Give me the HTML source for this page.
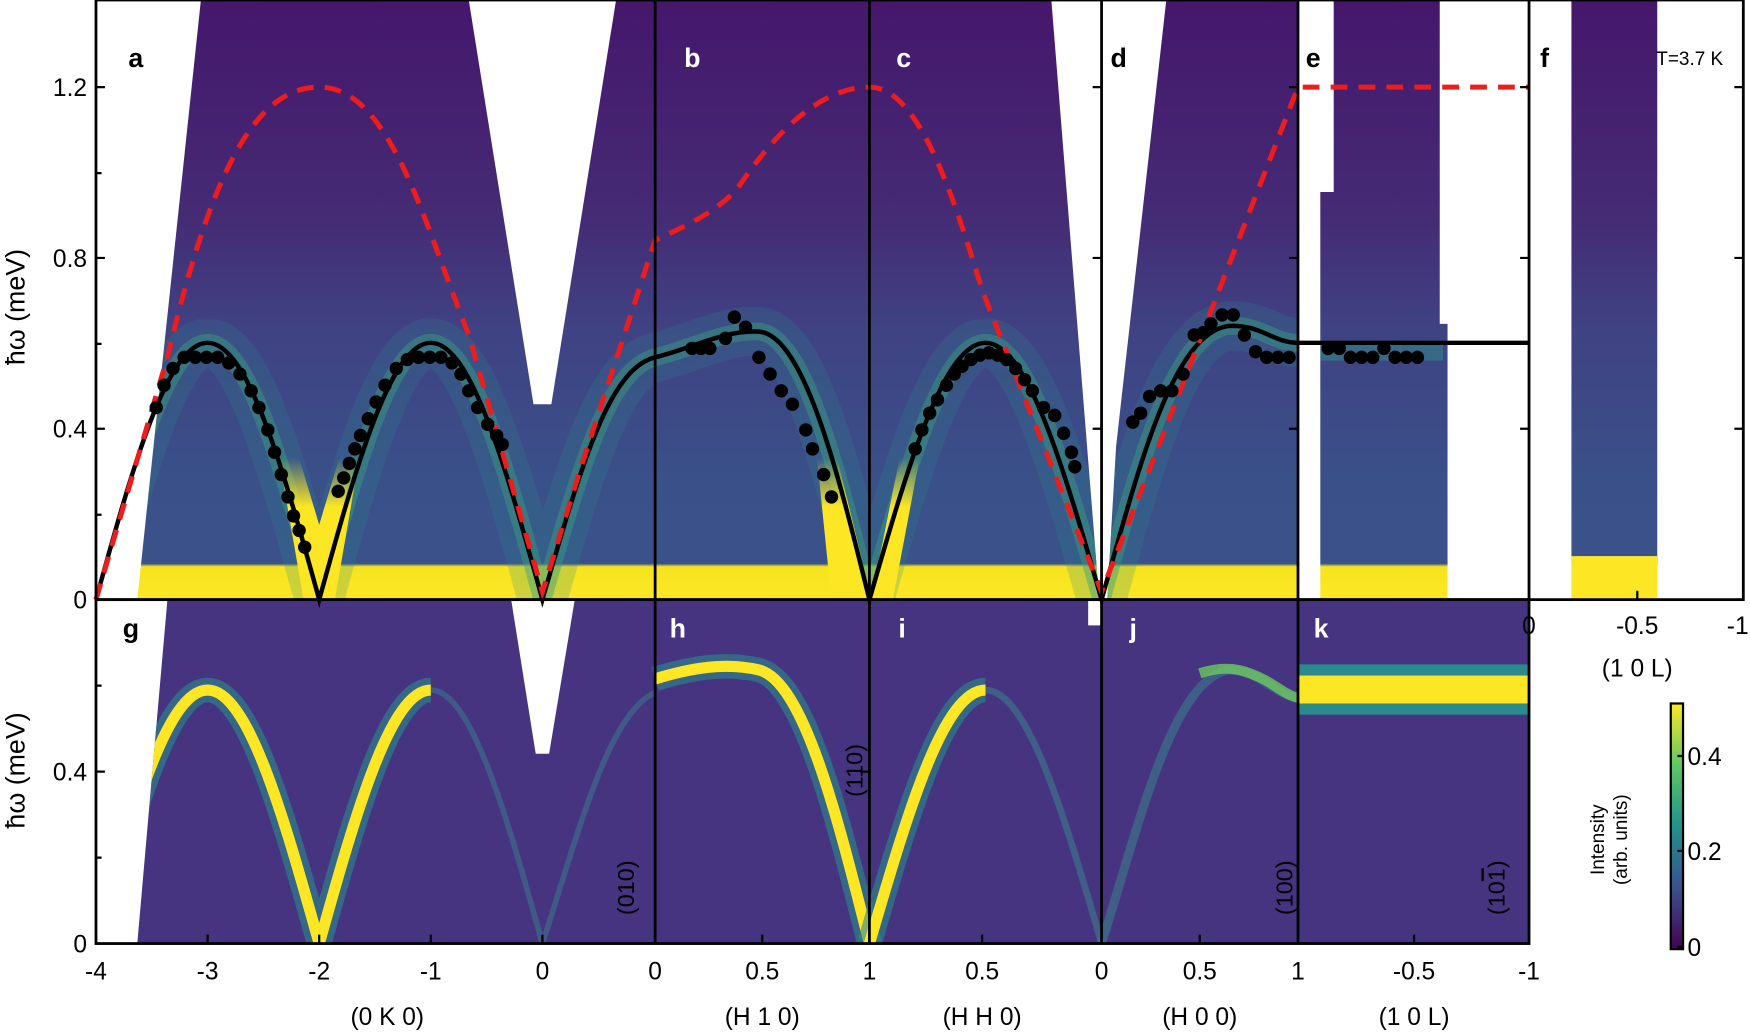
<!DOCTYPE html>
<html><head><meta charset="utf-8"><style>html,body{margin:0;padding:0;background:#fff}svg{display:block}text{font-family:"Liberation Sans",Arial,sans-serif}</style></head><body>
<svg width="1750" height="1034" viewBox="0 0 1568 926" preserveAspectRatio="none" xmlns="http://www.w3.org/2000/svg">
<defs>
<linearGradient id="tg" x1="0" y1="0" x2="0" y2="1">
<stop offset="0" stop-color="#45176c"/><stop offset="0.35" stop-color="#452a74"/><stop offset="0.55" stop-color="#3f4283"/><stop offset="0.8" stop-color="#3a5089"/><stop offset="0.94" stop-color="#3a5289"/><stop offset="0.945" stop-color="#f6e41f"/><stop offset="1" stop-color="#fde725"/>
</linearGradient>
<linearGradient id="yf" x1="0" y1="0" x2="0" y2="1">
<stop offset="0" stop-color="#fde725" stop-opacity="0"/><stop offset="0.35" stop-color="#fde725" stop-opacity="1"/><stop offset="1" stop-color="#fde725"/>
</linearGradient>
<linearGradient id="cb" x1="0" y1="1" x2="0" y2="0">
<stop offset="0" stop-color="#440154"/><stop offset="0.25" stop-color="#3b528b"/><stop offset="0.5" stop-color="#21918c"/><stop offset="0.75" stop-color="#5ec962"/><stop offset="1" stop-color="#fde725"/>
</linearGradient>
<path id="arc" d="M86,537 C118.6,419.2 149.8,307 186,307 C222.2,307 253.4,419.2 286,537 C318.6,419.2 349.8,307 386,307 C422.2,307 453.4,419.2 486,537 C520,420 545,330 587,320 C620,312 650,295 680,297 C720,300 750,420 779,537 C812.9,419.2 845.4,307 883,307 C920.6,307 953.1,419.2 987,537 C1020,420 1050,300 1100,292 C1130,290 1140,307 1163,307"/>
<clipPath id="ct"><path d="M123,537 L180,0 L420,0 L478,362 L494,362 L552,0 L942,0 L985,537 Z M992,537 L1000,400 L1045,0 L1163,0 L1163,537 Z M1195,0 L1290,0 L1290,290 L1297,290 L1297,537 L1183,537 L1183,172 L1195,172 Z M1408,0 L1485,0 L1485,537 L1408,537 Z"/></clipPath>
<clipPath id="cbm"><path d="M123,845 L150,537 L458,537 L480,675 L492,675 L515,537 L975,537 L975,560 L987,560 L987,537 L1003,537 L990,845 Z M990,845 L995,600 L1003,537 L1370,537 L1370,845 Z"/></clipPath>
</defs>
<!-- top heatmap -->
<g clip-path="url(#ct)">
<rect x="0" y="0" width="1568" height="537" fill="url(#tg)"/>
<rect x="1408" y="498" width="77" height="40" fill="#fde725"/>
<g fill="none" stroke-linecap="round">
<use href="#arc" stroke="#2a8a8c" stroke-width="44" stroke-opacity="0.22"/>
<use href="#arc" stroke="#3aa07f" stroke-width="16" stroke-opacity="0.45"/>
</g>
<path d="M250,410 L268,410 L286,470 L304,410 L322,410 L300,537 L272,537 Z" fill="url(#yf)"/>
<path d="M732,410 L750,410 L772,500 L779,537 L790,490 L806,410 L824,410 L800,537 L745,537 Z" fill="url(#yf)"/>
<rect x="1183" y="305" width="110" height="18" fill="#2e8f8a" opacity="0.5"/>
</g>
<!-- bottom heatmap -->
<g clip-path="url(#cbm)">
<rect x="86" y="537" width="1284" height="308" fill="#463481"/>
<g fill="none" stroke-linecap="butt">
<path d="M86,845 C118.6,728.7 149.8,618 186,618 C222.2,618 253.4,728.7 286,845 C318.6,728.7 349.8,618 386,618" stroke="#2a8a8c" stroke-width="22" stroke-opacity="0.6"/>
<path d="M86,845 C118.6,728.7 149.8,618 186,618 C222.2,618 253.4,728.7 286,845 C318.6,728.7 349.8,618 386,618" stroke="#fde725" stroke-width="10"/>
<path d="M386,618 C422.2,618 453.4,728.7 486,845 C520,740 545,640 587,620" stroke="#3a8a8e" stroke-width="5" stroke-opacity="0.45"/>
<path d="M587,608 C620,598 650,593 680,600 C720,610 750,730 779,845" stroke="#2a8a8c" stroke-width="22" stroke-opacity="0.6"/>
<path d="M587,608 C620,598 650,593 680,600 C720,610 750,730 779,845" stroke="#fde725" stroke-width="10"/>
<path d="M779,845 C812.9,728.7 845.4,618 883,618" stroke="#2a8a8c" stroke-width="22" stroke-opacity="0.6"/>
<path d="M779,845 C812.9,728.7 845.4,618 883,618" stroke="#fde725" stroke-width="10"/>
<path d="M883,618 C920.6,618 953.1,728.7 987,845" stroke="#3a8a8e" stroke-width="6" stroke-opacity="0.5"/>
<path d="M987,845 C1020,740 1050,610 1100,600 C1130,600 1140,622 1163,625" stroke="#3a8a8e" stroke-width="8" stroke-opacity="0.5"/>
<path d="M1075,603 C1090,598 1105,597 1120,603 C1140,610 1150,622 1163,625" stroke="#6cc860" stroke-width="9" stroke-opacity="0.8"/>
</g>
<rect x="1163" y="595" width="207" height="45" fill="#2a8a8c"/>
<rect x="1163" y="605" width="207" height="25" fill="#fde725"/>
</g>
<!-- curves -->
<path d="M86,537 C118.6,419.2 149.8,307 186,307 C222.2,307 253.4,419.2 286,537 C318.6,419.2 349.8,307 386,307 C422.2,307 453.4,419.2 486,537 C520,420 545,330 587,320 C620,312 650,295 680,297 C720,300 750,420 779,537 C812.9,419.2 845.4,307 883,307 C920.6,307 953.1,419.2 987,537 C1020,420 1050,300 1100,292 C1130,290 1140,307 1163,307 L1370,307" fill="none" stroke="#000" stroke-width="4"/>
<path d="M86,537 L150,320 C190,150 230,78 286,78 C350,78 380,200 420,300 L486,530 L520,420 L587,215 C620,200 640,190 660,170 C700,110 740,78 779,78 C820,78 850,160 880,260 L987,530 L1030,420 L1163,78 L1370,78" fill="none" stroke="#ee1c1c" stroke-width="4.5" stroke-dasharray="15 10"/>
<g fill="#000">
<circle cx="140" cy="365" r="6"/><circle cx="147" cy="345" r="6"/><circle cx="155" cy="330" r="6"/><circle cx="165" cy="320" r="6"/><circle cx="175" cy="320" r="6"/><circle cx="185" cy="320" r="6"/><circle cx="195" cy="320" r="6"/><circle cx="205" cy="325" r="6"/><circle cx="215" cy="335" r="6"/><circle cx="225" cy="350" r="6"/><circle cx="232" cy="365" r="6"/><circle cx="240" cy="385" r="6"/><circle cx="246" cy="405" r="6"/><circle cx="252" cy="425" r="6"/><circle cx="258" cy="445" r="6"/><circle cx="263" cy="462" r="6"/><circle cx="268" cy="475" r="6"/><circle cx="273" cy="490" r="6"/>
<circle cx="303" cy="440" r="6"/><circle cx="308" cy="428" r="6"/><circle cx="313" cy="415" r="6"/><circle cx="318" cy="402" r="6"/><circle cx="323" cy="390" r="6"/><circle cx="330" cy="375" r="6"/><circle cx="337" cy="360" r="6"/><circle cx="345" cy="345" r="6"/><circle cx="355" cy="330" r="6"/><circle cx="365" cy="322" r="6"/><circle cx="375" cy="320" r="6"/><circle cx="385" cy="320" r="6"/><circle cx="395" cy="320" r="6"/><circle cx="405" cy="325" r="6"/><circle cx="413" cy="335" r="6"/><circle cx="420" cy="350" r="6"/><circle cx="428" cy="365" r="6"/><circle cx="437" cy="380" r="6"/><circle cx="445" cy="390" r="6"/><circle cx="450" cy="398" r="6"/>
<circle cx="620" cy="312" r="6"/><circle cx="628" cy="312" r="6"/><circle cx="636" cy="312" r="6"/><circle cx="650" cy="303" r="6"/><circle cx="658" cy="284" r="6"/><circle cx="668" cy="293" r="6"/><circle cx="680" cy="320" r="6"/><circle cx="690" cy="335" r="6"/><circle cx="700" cy="350" r="6"/><circle cx="710" cy="362" r="6"/><circle cx="722" cy="385" r="6"/><circle cx="728" cy="402" r="6"/><circle cx="738" cy="425" r="6"/><circle cx="745" cy="445" r="6"/>
<circle cx="820" cy="402" r="6"/><circle cx="826" cy="385" r="6"/><circle cx="833" cy="370" r="6"/><circle cx="840" cy="358" r="6"/><circle cx="848" cy="345" r="6"/><circle cx="855" cy="335" r="6"/><circle cx="862" cy="328" r="6"/><circle cx="870" cy="322" r="6"/><circle cx="878" cy="318" r="6"/><circle cx="886" cy="316" r="6"/><circle cx="894" cy="318" r="6"/><circle cx="902" cy="322" r="6"/><circle cx="910" cy="330" r="6"/><circle cx="918" cy="340" r="6"/><circle cx="925" cy="350" r="6"/><circle cx="935" cy="365" r="6"/><circle cx="945" cy="372" r="6"/><circle cx="953" cy="388" r="6"/><circle cx="960" cy="405" r="6"/><circle cx="963" cy="418" r="6"/>
<circle cx="1015" cy="378" r="6"/><circle cx="1022" cy="370" r="6"/><circle cx="1030" cy="355" r="6"/><circle cx="1040" cy="350" r="6"/><circle cx="1050" cy="350" r="6"/><circle cx="1060" cy="335" r="6"/><circle cx="1070" cy="300" r="6"/><circle cx="1078" cy="298" r="6"/><circle cx="1085" cy="290" r="6"/><circle cx="1095" cy="282" r="6"/><circle cx="1105" cy="282" r="6"/><circle cx="1115" cy="300" r="6"/><circle cx="1125" cy="315" r="6"/><circle cx="1135" cy="320" r="6"/><circle cx="1145" cy="320" r="6"/><circle cx="1155" cy="320" r="6"/>
<circle cx="1190" cy="312" r="6"/><circle cx="1200" cy="312" r="6"/><circle cx="1210" cy="320" r="6"/><circle cx="1220" cy="320" r="6"/><circle cx="1230" cy="320" r="6"/><circle cx="1240" cy="312" r="6"/><circle cx="1250" cy="320" r="6"/><circle cx="1260" cy="320" r="6"/><circle cx="1270" cy="320" r="6"/>
</g>
<!-- frames -->
<g stroke="#000" stroke-width="2.5" fill="none">
<rect x="86" y="0" width="1476" height="537"/>
<rect x="86" y="537" width="1284" height="308"/>
<line x1="587" y1="0" x2="587" y2="845"/><line x1="779" y1="0" x2="779" y2="845"/><line x1="987" y1="0" x2="987" y2="845"/><line x1="1163" y1="0" x2="1163" y2="845"/><line x1="1370" y1="0" x2="1370" y2="537"/>
</g>
<g stroke="#000" stroke-width="2">
<path d="M86,78h8M86,231h8M86,384h8M86,155h5M86,308h5M86,461h5M86,691h8M86,768h5M86,614h5"/>
<path d="M186,845v-8M286,845v-8M386,845v-8M486,845v-8M683,845v-8M880,845v-8M1075,845v-8M1267,845v-8M1467,537v-8"/>
<path d="M1370,78h-8M1370,231h-8M1370,384h-8M1562,78h-8M1562,231h-8M1562,384h-8M1163,78h-8M1163,231h-8M1163,384h-8M987,78h-8M987,231h-8M987,384h-8M779,691h-8"/>
</g>
<!-- tick labels -->
<g font-size="22" fill="#000" text-anchor="end">
<text x="78" y="86">1.2</text><text x="78" y="239">0.8</text><text x="78" y="392">0.4</text><text x="78" y="545">0</text>
<text x="78" y="699">0.4</text><text x="78" y="853">0</text>
</g>
<g font-size="22" fill="#000" text-anchor="middle">
<text x="86" y="877">-4</text><text x="186" y="877">-3</text><text x="286" y="877">-2</text><text x="386" y="877">-1</text><text x="486" y="877">0</text><text x="587" y="877">0</text><text x="683" y="877">0.5</text><text x="779" y="877">1</text><text x="880" y="877">0.5</text><text x="987" y="877">0</text><text x="1075" y="877">0.5</text><text x="1163" y="877">1</text><text x="1267" y="877">-0.5</text><text x="1370" y="877">-1</text>
<text x="1370" y="568">0</text><text x="1467" y="568">-0.5</text><text x="1557" y="568">-1</text>
<text x="347" y="918">(0 K 0)</text><text x="683" y="918">(H 1 0)</text><text x="880" y="918">(H H 0)</text><text x="1075" y="918">(H 0 0)</text><text x="1267" y="918">(1 0 L)</text><text x="1467" y="606">(1 0 L)</text>
</g>
<text transform="translate(22,275) rotate(-90)" font-size="24" text-anchor="middle">ħω (meV)</text>
<text transform="translate(22,690) rotate(-90)" font-size="24" text-anchor="middle">ħω (meV)</text>
<!-- panel letters -->
<g font-size="24" font-weight="bold">
<text x="115" y="60" fill="#000">a</text><text x="613" y="60" fill="#fff">b</text><text x="803" y="60" fill="#fff">c</text><text x="995" y="60" fill="#000">d</text><text x="1170" y="60" fill="#000">e</text><text x="1380" y="60" fill="#000">f</text>
<text x="110" y="571" fill="#000">g</text><text x="600" y="571" fill="#fff">h</text><text x="805" y="571" fill="#fff">i</text><text x="1012" y="571" fill="#fff">j</text><text x="1177" y="571" fill="#fff">k</text>
</g>
<text x="1484" y="58" font-size="17">T=3.7 K</text>
<g font-size="21" fill="#000">
<text transform="translate(568,795) rotate(-90)" text-anchor="middle">(010)</text>
<text transform="translate(773,690) rotate(-90)" text-anchor="middle">(110)</text>
<text transform="translate(1158,795) rotate(-90)" text-anchor="middle">(100)</text>
<text transform="translate(1348,795) rotate(-90)" text-anchor="middle">(10<tspan text-decoration="overline">1</tspan>)</text>
</g>
<!-- colorbar -->
<rect x="1497" y="630" width="11" height="220" fill="url(#cb)" stroke="#000" stroke-width="2"/>
<g stroke="#000" stroke-width="2"><path d="M1508,677h-5M1508,762h-5M1508,848h-5"/></g>
<g font-size="22"><text x="1512" y="685">0.4</text><text x="1512" y="770">0.2</text><text x="1512" y="856">0</text></g>
<text transform="translate(1437,752) rotate(-90)" font-size="17" text-anchor="middle">Intensity</text>
<text transform="translate(1458,752) rotate(-90)" font-size="17" text-anchor="middle">(arb. units)</text>
</svg>
</body></html>
